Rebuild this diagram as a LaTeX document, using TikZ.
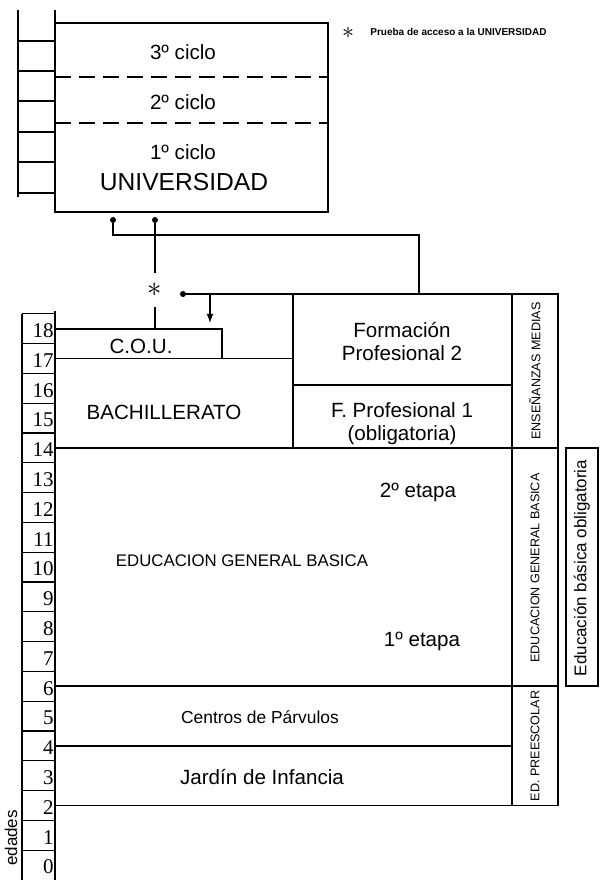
\documentclass[tikz,border=0pt]{standalone}
\usepackage{fontspec}
\setmainfont{Liberation Sans}
\newfontfamily\agefont{Liberation Serif}
\usetikzlibrary{arrows,positioning}
\tikzstyle{block}=[draw,line width=0.9pt]
\tikzstyle{cell}=[draw,line width=0.6pt]
\tikzstyle{link}=[draw,line width=0.6pt]
\tikzstyle{dot}=[circle,fill=black,minimum size=3pt,inner sep=0pt]
\tikzstyle{age}=[anchor=east,inner sep=0pt,font=\agefont\fontsize{10.5}{10.5}\selectfont]
\tikzstyle{boxtext}=[font=\fontsize{10.3}{11.5}\selectfont,align=center]
\tikzstyle{side}=[rotate=90,inner sep=0pt,font=\fontsize{6.3}{6.3}\selectfont]
\begin{document}
\begin{tikzpicture}[x=0.5pt,y=-0.5pt]
\useasboundingbox (0,0) rectangle (600,880);

% University block with its ladder
\path[cell] (18,10) -- (18,197);
\foreach \y in {41,71,101,132,162,193}
\path[cell] (18,\y) -- (55,\y);
\draw[block] (55,10) -- (55,23);
\draw[block] (55,23) rectangle (328,212);
\draw[block,dash pattern=on 8pt off 4pt] (55,77) -- (328,77);
\draw[block,dash pattern=on 8pt off 4pt] (55,123) -- (328,123);
\node[boxtext] (c3) at (183,52) {3º ciclo};
\node[boxtext] (c2) at (183,102) {2º ciclo};
\node[boxtext] (c1) at (183,152) {1º ciclo};
\node[boxtext,font=\fontsize{12.3}{13}\selectfont] (univ) at (184,182) {UNIVERSIDAD};

% Legend
\node[font=\fontsize{13}{13}\selectfont,inner sep=0pt] (legstar) at (348,33) {$\ast$};
\node[anchor=west,inner sep=0pt,font=\fontsize{5}{5}\selectfont\bfseries] (legend) at (370,32) {Prueba de acceso a la UNIVERSIDAD};

% Age column
\path[cell] (22,314) -- (22,880);
\path[cell] (55,311) -- (55,880);
\foreach \a in {0,...,18}{
  \pgfmathsetmacro{\yy}{865-29.8*\a}
  \coordinate (a\a) at (55,\yy);
  \path[cell] (22,{\yy-14.9}) -- (55,{\yy-14.9});
  \node[age] (n\a) at (54,{\yy+2}) {\a};
}
\node[side,font=\fontsize{8.5}{8.5}\selectfont] (edades) at (11,838) {edades};

% Guides for the blocks
\coordinate (xcou) at (222,0);
\coordinate (xfp) at (293,0);
\coordinate (xmain) at (512,0);
\coordinate (xside) at (558,0);
\coordinate (xob) at (566,0);
\coordinate (xobr) at (598,0);
\coordinate (fptop) at (293,294);
\coordinate (fpmid) at (293,385);

% Blocks by age
\draw[block] (a18) rectangle (xcou |- a17);
\draw[block] (a17) rectangle (xfp |- a14);
\draw[block] (fptop) rectangle (xmain |- fpmid);
\draw[block] (fpmid) rectangle (xmain |- a14);
\draw[block] (xmain |- fptop) rectangle (xside |- a14);
\draw[block] (a14) rectangle (xmain |- a6);
\draw[block] (xmain |- a14) rectangle (xside |- a6);
\draw[block] (a6) rectangle (xmain |- a4);
\draw[block] (a4) rectangle (xmain |- a2);
\draw[block] (xmain |- a6) rectangle (xside |- a2);
\draw[block] (xob |- a14) rectangle (xobr |- a6);

\node[boxtext] (cou) at (141,346) {C.O.U.};
\node[boxtext] (bach) at (164,412) {BACHILLERATO};
\node[boxtext] (fp2) at (402,342) {Formación\\Profesional 2};
\node[boxtext] (fp1) at (402,424) {F. Profesional 1\\(obligatoria)};
\node[boxtext] (et2) at (418,492) {2º etapa};
\node[boxtext,font=\fontsize{8.4}{9}\selectfont] (egb) at (242,561) {EDUCACION GENERAL BASICA};
\node[boxtext] (et1) at (422,641) {1º etapa};
\node[boxtext,font=\fontsize{8.7}{9}\selectfont] (parv) at (260,717) {Centros de Párvulos};
\node[boxtext] (jard) at (262,777) {Jardín de Infancia};

\node[side] (em) at (535,371) {ENSEÑANZAS MEDIAS};
\node[side] (egbs) at (535,568) {EDUCACION GENERAL BASICA};
\node[side] (pre) at (535,746) {ED. PREESCOLAR};
\node[side,font=\fontsize{8.5}{8.5}\selectfont] (oblig) at (582,568) {Educación básica obligatoria};

% Connectors to and from the university
\node[dot] (d1) at (113,220) {};
\node[dot] (d2) at (155,220) {};
\node[dot] (d3) at (183,294) {};
\node[inner sep=0pt,minimum height=16.5pt,font=\fontsize{14}{14}\selectfont] (ast) at (155,290) {$\ast$};
\coordinate (j1) at (113,235);
\coordinate (j3) at (419,235);
\coordinate (j4) at (419,294);
\coordinate (arrtop) at (210,294);
\coordinate (arrend) at (210,323);
\path[link] (d1) -- (j1) -- (j3) -- (j4);
\path[link] (d2) -- (ast.north);
\path[link] (ast.south) -- (ast |- a18);
\path[link] (d3) -- (xside |- fptop);
\draw[link,-latex] (arrtop) -- (arrend);

\end{tikzpicture}
\end{document}
